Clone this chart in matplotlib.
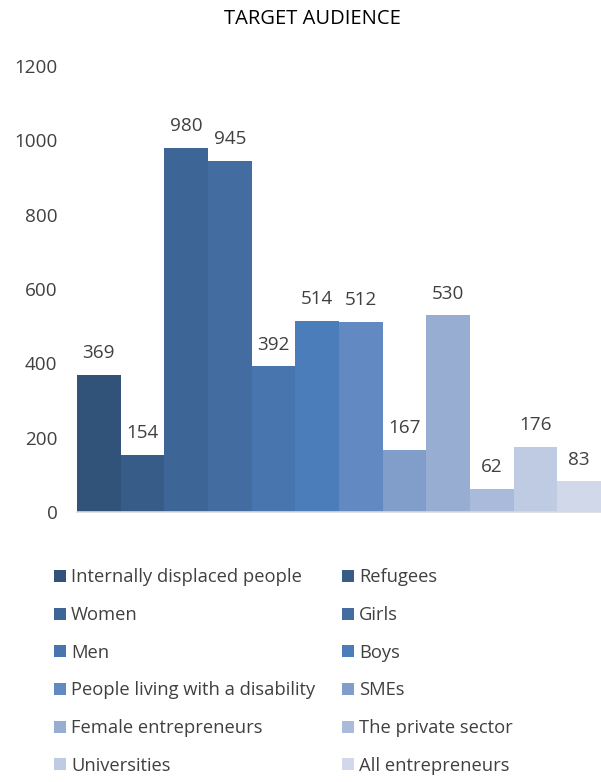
import matplotlib.pyplot as plt
from matplotlib.patches import Patch

plt.rcParams['font.family'] = ['Open Sans', 'DejaVu Sans']

# Target audience counts
groups = ['Internally displaced people', 'Refugees', 'Women', 'Girls', 'Men', 'Boys',
          'People living with a disability', 'SMEs', 'Female entrepreneurs',
          'The private sector', 'Universities', 'All entrepreneurs']
counts = [369, 154, 980, 945, 392, 514, 512, 167, 530, 62, 176, 83]
colors = ['#31537A', '#365C87', '#3D6596', '#436DA1', '#4875AE', '#4B7DBA',
          '#6289C1', '#819DC9', '#97AED2', '#A9BADB', '#BFCBE3', '#D0D8E9']
yticks = [0, 200, 400, 600, 800, 1000, 1200]

text_color = '#404040'
fs = 13.6

fig = plt.figure(figsize=(6.01, 7.82), dpi=100)
ax = fig.add_axes([77 / 601, 1 - 512 / 782, 524 / 601, 446 / 782])

x = list(range(len(counts)))
bars = ax.bar(x, counts, width=1.0, color=colors)
ax.bar_label(bars, labels=[str(c) for c in counts], padding=9, fontsize=fs, color=text_color)

ax.set_xlim(-0.5, len(counts) - 0.5)
ax.set_ylim(0, 1200)
ax.set_yticks(yticks)
ax.set_yticklabels([str(t) for t in yticks], fontsize=fs, color=text_color)
ax.set_xticks([])
ax.tick_params(axis='y', length=0, pad=14)
for side in ['top', 'right', 'left']:
    ax.spines[side].set_visible(False)
ax.spines['bottom'].set_color('#D9D9D9')
ax.spines['bottom'].set_linewidth(1.2)

fig.text(312 / 601, 1 - 19 / 782, 'TARGET AUDIENCE', ha='center', va='center',
         fontsize=14.5, color='black')

# legend reads row by row, matplotlib fills columns first
handles = [Patch(facecolor=c) for c in colors]
order = list(range(0, 12, 2)) + list(range(1, 12, 2))
fig.legend([handles[i] for i in order], [groups[i] for i in order],
           ncol=2, loc='upper left', bbox_to_anchor=(46.5 / 601, 1 - 561 / 782),
           frameon=False, fontsize=13.25, labelcolor=text_color,
           handlelength=0.64, handleheight=0.64, handletextpad=0.3,
           labelspacing=1.07, columnspacing=1.44, borderaxespad=0)

plt.savefig('out.png', dpi=100)
